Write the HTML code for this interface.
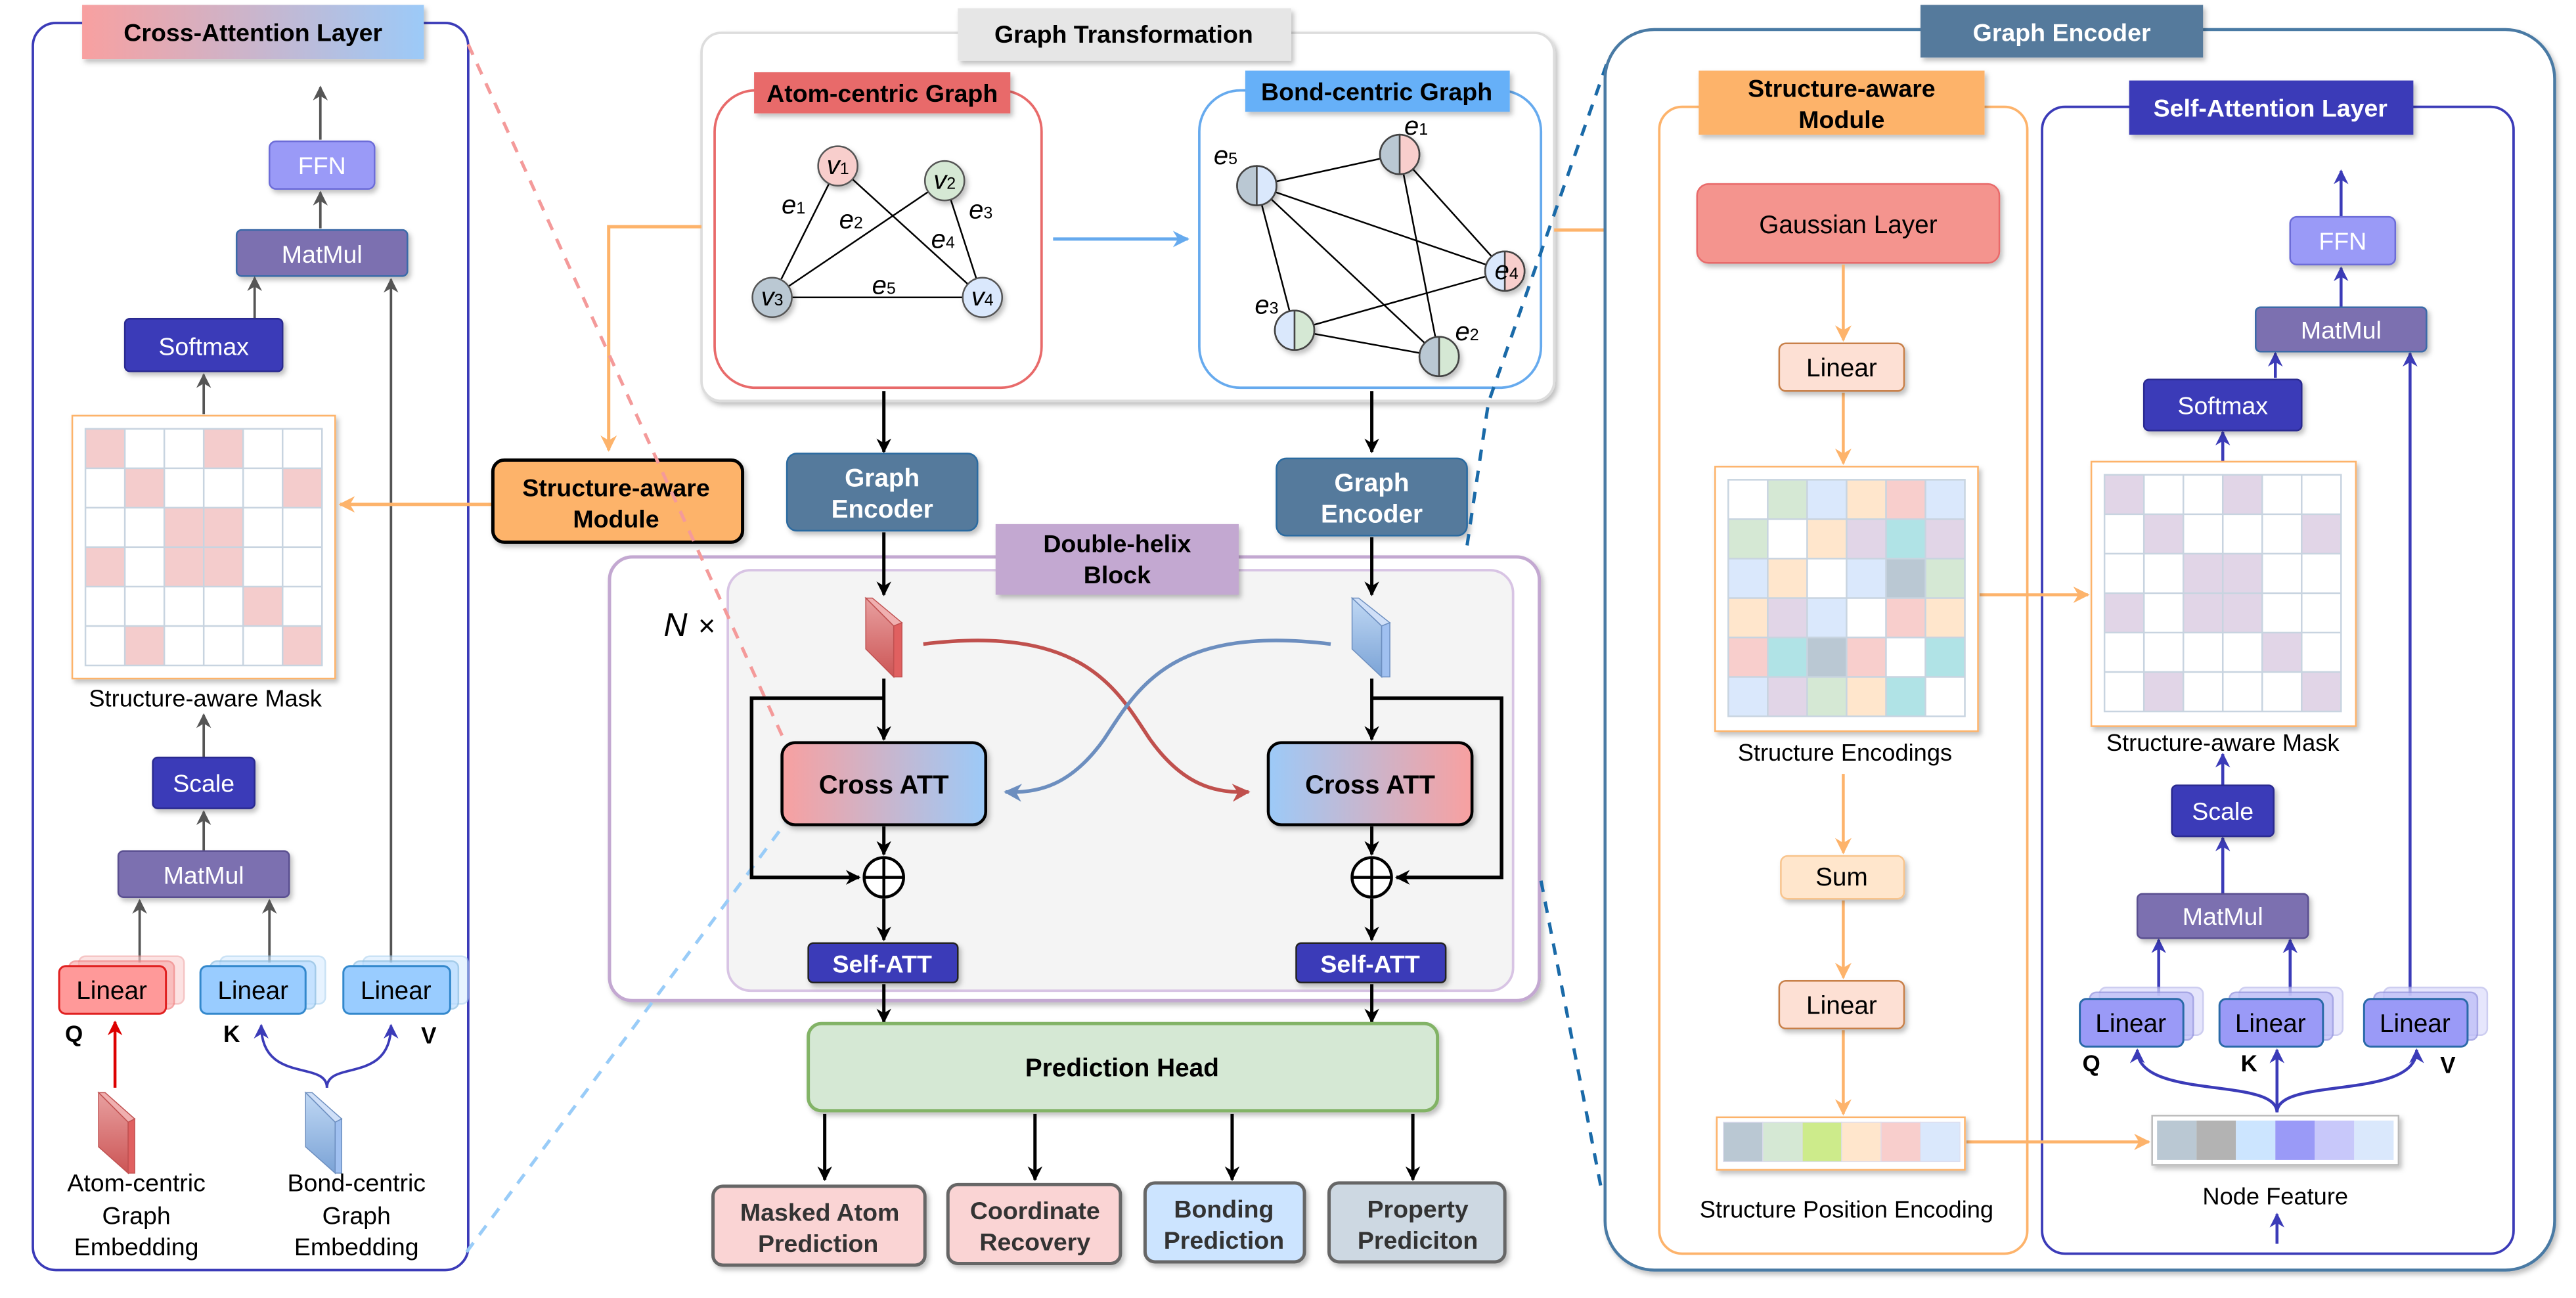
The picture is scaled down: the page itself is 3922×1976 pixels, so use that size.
<!DOCTYPE html>
<html><head><meta charset="utf-8">
<style>
html,body{margin:0;padding:0;background:#fff;}
svg{display:block;}
text{font-family:"Liberation Sans",sans-serif;}
.b{font-weight:bold;}
</style></head><body>
<svg width="3922" height="1976" viewBox="0 0 1568 790" xmlns="http://www.w3.org/2000/svg">
<defs>
<filter id="sh" x="-10%" y="-10%" width="130%" height="140%"><feDropShadow dx="1.5" dy="2" stdDeviation="1.5" flood-color="#000" flood-opacity="0.25"/></filter>
<marker id="ak" viewBox="0 0 10 10" refX="9" refY="5" markerWidth="9" markerHeight="9" markerUnits="userSpaceOnUse" orient="auto"><path d="M0,0 L10,5 L0,10 L3,5z" fill="#000"/></marker>
<marker id="ag" viewBox="0 0 10 10" refX="9" refY="5" markerWidth="9" markerHeight="9" markerUnits="userSpaceOnUse" orient="auto"><path d="M0,0 L10,5 L0,10 L3,5z" fill="#555"/></marker>
<marker id="ao" viewBox="0 0 10 10" refX="9" refY="5" markerWidth="10" markerHeight="10" markerUnits="userSpaceOnUse" orient="auto"><path d="M0,0 L10,5 L0,10 L3,5z" fill="#fdb36b"/></marker>
<marker id="ap" viewBox="0 0 10 10" refX="9" refY="5" markerWidth="9" markerHeight="9" markerUnits="userSpaceOnUse" orient="auto"><path d="M0,0 L10,5 L0,10 L3,5z" fill="#3b3bb8"/></marker>
<marker id="ab" viewBox="0 0 10 10" refX="9" refY="5" markerWidth="10" markerHeight="10" markerUnits="userSpaceOnUse" orient="auto"><path d="M0,0 L10,5 L0,10 L3,5z" fill="#66aaee"/></marker>
<marker id="ar" viewBox="0 0 10 10" refX="9" refY="5" markerWidth="9" markerHeight="9" markerUnits="userSpaceOnUse" orient="auto"><path d="M0,0 L10,5 L0,10 L3,5z" fill="#d00"/></marker>
<marker id="acr" viewBox="0 0 10 10" refX="9" refY="5" markerWidth="11" markerHeight="11" markerUnits="userSpaceOnUse" orient="auto"><path d="M0,0 L10,5 L0,10 L3,5z" fill="#c0504d"/></marker>
<marker id="acb" viewBox="0 0 10 10" refX="9" refY="5" markerWidth="11" markerHeight="11" markerUnits="userSpaceOnUse" orient="auto"><path d="M0,0 L10,5 L0,10 L3,5z" fill="#6c8ebf"/></marker>
<linearGradient id="gpb" x1="0" x2="1" y1="0" y2="0"><stop offset="0" stop-color="#f8a0a0"/><stop offset="1" stop-color="#9ccaf8"/></linearGradient>
<linearGradient id="gbp" x1="0" x2="1" y1="0" y2="0"><stop offset="0" stop-color="#9ccaf8"/><stop offset="1" stop-color="#f8a0a0"/></linearGradient>
<linearGradient id="gcr" x1="0" x2="0" y1="0" y2="1"><stop offset="0" stop-color="#e8a0a0"/><stop offset="1" stop-color="#cc5555"/></linearGradient>
<linearGradient id="gcb" x1="0" x2="0" y1="0" y2="1"><stop offset="0" stop-color="#c0d8f4"/><stop offset="1" stop-color="#7ba3d6"/></linearGradient>
</defs>

<!-- ============ LEFT PANEL ============ -->
<rect x="20" y="14" width="265" height="759" rx="14" fill="#fff" stroke="#3b3bb8" stroke-width="1.5"/>
<rect x="50" y="3" width="208" height="33" fill="url(#gpb)" filter="url(#sh)"/>
<text x="154" y="25" class="b" font-size="15" text-anchor="middle">Cross-Attention Layer</text>
<line x1="195" y1="85" x2="195" y2="53" stroke="#555" stroke-width="1.5" marker-end="url(#ag)"/>
<rect x="164" y="86" width="64" height="29" rx="4" fill="#9a9af7" stroke="#6c6cd8" filter="url(#sh)"/>
<text x="196" y="106" font-size="15" fill="#fff" text-anchor="middle">FFN</text>
<line x1="195" y1="139" x2="195" y2="117" stroke="#555" stroke-width="1.5" marker-end="url(#ag)"/>
<rect x="144" y="140" width="104" height="28" rx="3" fill="#7b6fb0" stroke="#3a6aa8" filter="url(#sh)"/>
<text x="196" y="160" font-size="15" fill="#fff" text-anchor="middle">MatMul</text>
<line x1="155" y1="194" x2="155" y2="169" stroke="#555" stroke-width="1.5" marker-end="url(#ag)"/>
<rect x="76" y="194" width="96" height="32" rx="3" fill="#3b3bb8" stroke="#2a2a90" filter="url(#sh)"/>
<text x="124" y="216" font-size="15" fill="#fff" text-anchor="middle">Softmax</text>
<line x1="124" y1="252" x2="124" y2="228" stroke="#555" stroke-width="1.5" marker-end="url(#ag)"/>
<rect x="44" y="253" width="160" height="160" fill="#fff" stroke="#fdb36b" filter="url(#sh)"/>
<g>
<rect x="52" y="261" width="144" height="144" fill="#fff"/>
<g fill="#f4cccc">
<rect x="52" y="261" width="24" height="24"/><rect x="124" y="261" width="24" height="24"/>
<rect x="76" y="285" width="24" height="24"/><rect x="172" y="285" width="24" height="24"/>
<rect x="100" y="309" width="24" height="24"/><rect x="124" y="309" width="24" height="24"/>
<rect x="52" y="333" width="24" height="24"/><rect x="100" y="333" width="24" height="24"/><rect x="124" y="333" width="24" height="24"/>
<rect x="148" y="357" width="24" height="24"/>
<rect x="76" y="381" width="24" height="24"/><rect x="172" y="381" width="24" height="24"/>
</g>
<g stroke="#c8d4e0" stroke-width="1" fill="none">
<rect x="52" y="261" width="144" height="144"/>
<path d="M76,261V405M100,261V405M124,261V405M148,261V405M172,261V405M52,285H196M52,309H196M52,333H196M52,357H196M52,381H196"/>
</g></g>
<text x="125" y="430" font-size="14.5" text-anchor="middle">Structure-aware Mask</text>
<line x1="124" y1="461" x2="124" y2="435" stroke="#555" stroke-width="1.5" marker-end="url(#ag)"/>
<rect x="93" y="461" width="62" height="31" rx="3" fill="#3b3bb8" stroke="#2a2a90" filter="url(#sh)"/>
<text x="124" y="482" font-size="15" fill="#fff" text-anchor="middle">Scale</text>
<line x1="124" y1="518" x2="124" y2="494" stroke="#555" stroke-width="1.5" marker-end="url(#ag)"/>
<rect x="72" y="518" width="104" height="28" rx="3" fill="#7b6fb0" stroke="#5a5090" filter="url(#sh)"/>
<text x="124" y="538" font-size="15" fill="#fff" text-anchor="middle">MatMul</text>
<line x1="85" y1="586" x2="85" y2="548" stroke="#555" stroke-width="1.5" marker-end="url(#ag)"/>
<line x1="164" y1="586" x2="164" y2="548" stroke="#555" stroke-width="1.5" marker-end="url(#ag)"/>
<line x1="238" y1="586" x2="238" y2="170" stroke="#555" stroke-width="1.5" marker-end="url(#ag)"/>
<rect x="48" y="582" width="64" height="29" rx="4" fill="#fbd0d0" stroke="#f0a0a0" opacity="0.6"/>
<rect x="42" y="585" width="64" height="29" rx="4" fill="#f8b0b0" stroke="#f08080" opacity="0.7"/>
<rect x="36" y="588" width="65" height="29" rx="4" fill="#f99" stroke="#e02020" stroke-width="1.2"/>
<text x="68" y="608" font-size="15.5" text-anchor="middle">Linear</text>
<rect x="134" y="582" width="64" height="29" rx="4" fill="#d8ecff" stroke="#a8d0f0" opacity="0.6"/>
<rect x="128" y="585" width="64" height="29" rx="4" fill="#b8dcff" stroke="#88bbe0" opacity="0.7"/>
<rect x="122" y="588" width="64" height="29" rx="4" fill="#99ccff" stroke="#3388cc" stroke-width="1.2"/>
<text x="154" y="608" font-size="15.5" text-anchor="middle">Linear</text>
<rect x="221" y="582" width="64" height="29" rx="4" fill="#d8ecff" stroke="#a8d0f0" opacity="0.6"/>
<rect x="215" y="585" width="64" height="29" rx="4" fill="#b8dcff" stroke="#88bbe0" opacity="0.7"/>
<rect x="209" y="588" width="65" height="29" rx="4" fill="#99ccff" stroke="#3388cc" stroke-width="1.2"/>
<text x="241" y="608" font-size="15.5" text-anchor="middle">Linear</text>
<text x="45" y="634" class="b" font-size="14" text-anchor="middle">Q</text>
<text x="141" y="634" class="b" font-size="14" text-anchor="middle">K</text>
<text x="261" y="635" class="b" font-size="14" text-anchor="middle">V</text>
<line x1="70" y1="662" x2="70" y2="622" stroke="#d00" stroke-width="1.8" marker-end="url(#ar)"/>
<path d="M199,662 C199,645 159,660 159,624" fill="none" stroke="#3b3bb8" stroke-width="1.5" marker-end="url(#ap)"/>
<path d="M199,662 C199,645 238,660 238,624" fill="none" stroke="#3b3bb8" stroke-width="1.5" marker-end="url(#ap)"/>
<g>
<polygon points="60,665 64,665 82,681 78,683" fill="#f0b0b0" stroke="#c05050" stroke-width="0.6"/>
<polygon points="60,665 78,683 78,714 60,698" fill="url(#gcr)" stroke="#c05050" stroke-width="0.6"/>
<polygon points="78,683 82,681 82,714 78,714" fill="#e06060" stroke="#c05050" stroke-width="0.6"/>
</g>
<g>
<polygon points="186,665 190,665 208,681 204,683" fill="#d0e0f8" stroke="#6c8ebf" stroke-width="0.6"/>
<polygon points="186,665 204,683 204,714 186,698" fill="url(#gcb)" stroke="#6c8ebf" stroke-width="0.6"/>
<polygon points="204,683 208,681 208,714 204,714" fill="#a0c0f0" stroke="#6c8ebf" stroke-width="0.6"/>
</g>
<g font-size="15" text-anchor="middle">
<text x="83" y="725">Atom-centric</text><text x="83" y="745">Graph</text><text x="83" y="764">Embedding</text>
<text x="217" y="725">Bond-centric</text><text x="217" y="745">Graph</text><text x="217" y="764">Embedding</text>
</g>

<!-- ============ MIDDLE ============ -->
<rect x="427" y="20" width="519" height="224" rx="12" fill="#fff" stroke="#ddd" stroke-width="1.5" filter="url(#sh)"/>
<rect x="583" y="5" width="203" height="32" fill="#e6e6e6" filter="url(#sh)"/>
<text x="684" y="26" class="b" font-size="15" text-anchor="middle">Graph Transformation</text>
<rect x="435" y="55" width="199" height="181" rx="25" fill="#fff" stroke="#e86a6a" stroke-width="1.5"/>
<rect x="459" y="44" width="156" height="25" fill="#e86a6a" filter="url(#sh)"/>
<text x="537" y="62" class="b" font-size="15" text-anchor="middle">Atom-centric Graph</text>
<g stroke="#000" stroke-width="1">
<line x1="510" y1="101" x2="470" y2="181"/><line x1="510" y1="101" x2="598" y2="181"/>
<line x1="575" y1="110" x2="470" y2="181"/><line x1="575" y1="110" x2="598" y2="181"/>
<line x1="470" y1="181" x2="598" y2="181"/>
</g>
<g stroke="#555" stroke-width="1" filter="url(#sh)">
<circle cx="510" cy="101" r="12" fill="#f8cecc"/>
<circle cx="575" cy="110" r="12" fill="#d5e8d4"/>
<circle cx="470" cy="181" r="12" fill="#bac8d3"/>
<circle cx="598" cy="181" r="12" fill="#dae8fc"/>
</g>
<g font-family="Liberation Serif,serif" font-style="italic" font-size="16" text-anchor="middle">
<text x="510" y="106">v<tspan font-size="10" font-style="normal">1</tspan></text>
<text x="575" y="115">v<tspan font-size="10" font-style="normal">2</tspan></text>
<text x="470" y="186">v<tspan font-size="10" font-style="normal">3</tspan></text>
<text x="598" y="186">v<tspan font-size="10" font-style="normal">4</tspan></text>
<text x="483" y="130">e<tspan font-size="10" font-style="normal">1</tspan></text>
<text x="518" y="139">e<tspan font-size="10" font-style="normal">2</tspan></text>
<text x="597" y="133">e<tspan font-size="10" font-style="normal">3</tspan></text>
<text x="574" y="151">e<tspan font-size="10" font-style="normal">4</tspan></text>
<text x="538" y="179">e<tspan font-size="10" font-style="normal">5</tspan></text>
</g>
<line x1="641" y1="145.5" x2="723" y2="145.5" stroke="#66aaee" stroke-width="2" marker-end="url(#ab)"/>
<rect x="730" y="55" width="208" height="181" rx="25" fill="#fff" stroke="#66aaee" stroke-width="1.5"/>
<rect x="758" y="43" width="161" height="25" fill="#66b0f8" filter="url(#sh)"/>
<text x="838" y="61" class="b" font-size="15" text-anchor="middle">Bond-centric Graph</text>
<g stroke="#000" stroke-width="1">
<line x1="765" y1="113" x2="852" y2="94"/><line x1="765" y1="113" x2="916" y2="165"/>
<line x1="765" y1="113" x2="788" y2="201"/><line x1="765" y1="113" x2="876" y2="217"/>
<line x1="852" y1="94" x2="916" y2="165"/><line x1="852" y1="94" x2="876" y2="217"/>
<line x1="788" y1="201" x2="916" y2="165"/><line x1="788" y1="201" x2="876" y2="217"/>
</g>
<g stroke="#444" stroke-width="1">
<g filter="url(#sh)"><path d="M852,82 A12,12 0 0 0 852,106Z" fill="#bac8d3"/><path d="M852,82 A12,12 0 0 1 852,106Z" fill="#f8cecc"/></g>
<circle cx="852" cy="94" r="12" fill="none"/>
<g filter="url(#sh)"><path d="M765,101 A12,12 0 0 0 765,125Z" fill="#bac8d3"/><path d="M765,101 A12,12 0 0 1 765,125Z" fill="#dae8fc"/></g>
<circle cx="765" cy="113" r="12" fill="none"/>
<g filter="url(#sh)"><path d="M916,153 A12,12 0 0 0 916,177Z" fill="#dae8fc"/><path d="M916,153 A12,12 0 0 1 916,177Z" fill="#f8cecc"/></g>
<circle cx="916" cy="165" r="12" fill="none"/>
<g filter="url(#sh)"><path d="M788,189 A12,12 0 0 0 788,213Z" fill="#dae8fc"/><path d="M788,189 A12,12 0 0 1 788,213Z" fill="#d5e8d4"/></g>
<circle cx="788" cy="201" r="12" fill="none"/>
<g filter="url(#sh)"><path d="M876,205 A12,12 0 0 0 876,229Z" fill="#bac8d3"/><path d="M876,205 A12,12 0 0 1 876,229Z" fill="#d5e8d4"/></g>
<circle cx="876" cy="217" r="12" fill="none"/>
</g>
<g font-family="Liberation Serif,serif" font-style="italic" font-size="16" text-anchor="middle">
<text x="862" y="82">e<tspan font-size="10" font-style="normal">1</tspan></text>
<text x="746" y="100">e<tspan font-size="10" font-style="normal">5</tspan></text>
<text x="917" y="170">e<tspan font-size="10" font-style="normal">4</tspan></text>
<text x="771" y="191">e<tspan font-size="10" font-style="normal">3</tspan></text>
<text x="893" y="207">e<tspan font-size="10" font-style="normal">2</tspan></text>
</g>
<line x1="538" y1="238" x2="538" y2="275" stroke="#000" stroke-width="2" marker-end="url(#ak)"/>
<line x1="835" y1="238" x2="835" y2="275" stroke="#000" stroke-width="2" marker-end="url(#ak)"/>
<rect x="479" y="276" width="116" height="47" rx="6" fill="#557a9c" stroke="#2a6aa0" filter="url(#sh)"/>
<text x="537" y="296" class="b" font-size="15.5" fill="#fff" text-anchor="middle">Graph</text>
<text x="537" y="315" class="b" font-size="15.5" fill="#fff" text-anchor="middle">Encoder</text>
<rect x="777" y="279" width="116" height="47" rx="6" fill="#557a9c" stroke="#2a6aa0" filter="url(#sh)"/>
<text x="835" y="299" class="b" font-size="15.5" fill="#fff" text-anchor="middle">Graph</text>
<text x="835" y="318" class="b" font-size="15.5" fill="#fff" text-anchor="middle">Encoder</text>
<polyline points="427,138 370.5,138 370.5,274" fill="none" stroke="#fdb36b" stroke-width="2" marker-end="url(#ao)"/>
<line x1="300" y1="307" x2="207" y2="307" stroke="#fdb36b" stroke-width="2" marker-end="url(#ao)"/>
<line x1="946" y1="140" x2="1031" y2="140" stroke="#fdb36b" stroke-width="2" marker-end="url(#ao)"/>
<rect x="300" y="280" width="152" height="50" rx="7" fill="#fdb36b" stroke="#000" stroke-width="2" filter="url(#sh)"/>
<text x="375" y="302" class="b" font-size="15" text-anchor="middle">Structure-aware</text>
<text x="375" y="321" class="b" font-size="15" text-anchor="middle">Module</text>
<rect x="371" y="339" width="566" height="270" rx="14" fill="#fff" stroke="#c3a8d1" stroke-width="2" filter="url(#sh)"/>
<rect x="443" y="347" width="478" height="256" rx="14" fill="#f4f4f4" stroke="#d8c4e4" stroke-width="1.5"/>
<rect x="606" y="319" width="148" height="43" fill="#c3a8d1" filter="url(#sh)"/>
<text x="680" y="336" class="b" font-size="15" text-anchor="middle">Double-helix</text>
<text x="680" y="355" class="b" font-size="15" text-anchor="middle">Block</text>
<text x="404" y="387" font-family="Liberation Serif,serif" font-style="italic" font-size="20">N</text>
<text x="425" y="387" font-family="Liberation Serif,serif" font-size="18">×</text>
<line x1="285" y1="27" x2="478" y2="452" stroke="#f49a9a" stroke-width="2" stroke-dasharray="7,6"/>
<line x1="284" y1="762" x2="478" y2="501" stroke="#99ccf8" stroke-width="2" stroke-dasharray="7,6"/>
<polyline points="893,332 906,245 979,36" fill="none" stroke="#1a6aa8" stroke-width="2" stroke-dasharray="7,6"/>
<line x1="938" y1="536" x2="975" y2="725" stroke="#1a6aa8" stroke-width="2" stroke-dasharray="7,6"/>
<line x1="538" y1="324" x2="538" y2="362" stroke="#000" stroke-width="2" marker-end="url(#ak)"/>
<line x1="835" y1="327" x2="835" y2="362" stroke="#000" stroke-width="2" marker-end="url(#ak)"/>
<g>
<polygon points="527,364 531,364 549,379 544,381" fill="#f0b0b0" stroke="#c05050" stroke-width="0.6"/>
<polygon points="527,364 544,381 544,412 527,395" fill="url(#gcr)" stroke="#c05050" stroke-width="0.6"/>
<polygon points="544,381 549,379 549,412 544,412" fill="#e06060" stroke="#c05050" stroke-width="0.6"/>
</g>
<g>
<polygon points="823,364 827,364 846,379 841,381" fill="#d0e0f8" stroke="#6c8ebf" stroke-width="0.6"/>
<polygon points="823,364 841,381 841,412 823,395" fill="url(#gcb)" stroke="#6c8ebf" stroke-width="0.6"/>
<polygon points="841,381 846,379 846,412 841,412" fill="#a0c0f0" stroke="#6c8ebf" stroke-width="0.6"/>
</g>
<line x1="538" y1="413" x2="538" y2="450" stroke="#000" stroke-width="2" marker-end="url(#ak)"/>
<polyline points="538,425 457.5,425 457.5,534 523,534" fill="none" stroke="#000" stroke-width="2.2" marker-end="url(#ak)"/>
<line x1="835" y1="413" x2="835" y2="450" stroke="#000" stroke-width="2" marker-end="url(#ak)"/>
<polyline points="835,425 914,425 914,534 850,534" fill="none" stroke="#000" stroke-width="2.2" marker-end="url(#ak)"/>
<rect x="476" y="452" width="124" height="50" rx="8" fill="url(#gpb)" stroke="#000" stroke-width="1.8" filter="url(#sh)"/>
<text x="538" y="483" class="b" font-size="16" text-anchor="middle">Cross ATT</text>
<rect x="772" y="452" width="124" height="50" rx="8" fill="url(#gbp)" stroke="#000" stroke-width="1.8" filter="url(#sh)"/>
<text x="834" y="483" class="b" font-size="16" text-anchor="middle">Cross ATT</text>
<path d="M562,392 C660,380 680,420 700,450 C720,478 740,483 760,482" fill="none" stroke="#c0504d" stroke-width="2.2" marker-end="url(#acr)"/>
<path d="M810,392 C712,380 692,420 672,450 C652,478 632,483 612,482" fill="none" stroke="#6c8ebf" stroke-width="2.2" marker-end="url(#acb)"/>
<line x1="538" y1="503" x2="538" y2="520" stroke="#000" stroke-width="2" marker-end="url(#ak)"/>
<line x1="835" y1="503" x2="835" y2="520" stroke="#000" stroke-width="2" marker-end="url(#ak)"/>
<g stroke="#000" stroke-width="1.8" fill="#fff">
<circle cx="538" cy="534" r="12"/><path d="M526,534H550M538,522V546"/>
<circle cx="835" cy="534" r="12"/><path d="M823,534H847M835,522V546"/>
</g>
<line x1="538" y1="547" x2="538" y2="572" stroke="#000" stroke-width="2" marker-end="url(#ak)"/>
<line x1="835" y1="547" x2="835" y2="572" stroke="#000" stroke-width="2" marker-end="url(#ak)"/>
<rect x="492" y="574" width="91" height="24" rx="3" fill="#3b3bb8" stroke="#222" filter="url(#sh)"/>
<text x="537" y="592" class="b" font-size="15" fill="#fff" text-anchor="middle">Self-ATT</text>
<rect x="789" y="574" width="91" height="24" rx="3" fill="#3b3bb8" stroke="#222" filter="url(#sh)"/>
<text x="834" y="592" class="b" font-size="15" fill="#fff" text-anchor="middle">Self-ATT</text>
<line x1="538" y1="599" x2="538" y2="622" stroke="#000" stroke-width="2" marker-end="url(#ak)"/>
<line x1="835" y1="599" x2="835" y2="622" stroke="#000" stroke-width="2" marker-end="url(#ak)"/>
<rect x="492" y="623" width="383" height="53" rx="8" fill="#d5e8d4" stroke="#82b366" stroke-width="2" filter="url(#sh)"/>
<text x="683" y="655" class="b" font-size="15.5" text-anchor="middle">Prediction Head</text>
<g stroke="#000" stroke-width="2">
<line x1="502" y1="678" x2="502" y2="718" marker-end="url(#ak)"/>
<line x1="630" y1="678" x2="630" y2="718" marker-end="url(#ak)"/>
<line x1="750" y1="678" x2="750" y2="718" marker-end="url(#ak)"/>
<line x1="860" y1="678" x2="860" y2="718" marker-end="url(#ak)"/>
</g>
<g stroke="#666" stroke-width="2" filter="url(#sh)">
<rect x="434" y="722" width="129" height="48" rx="6" fill="#fad4d4"/>
<rect x="577" y="721" width="105" height="48" rx="6" fill="#fad4d4"/>
<rect x="697" y="720" width="97" height="48" rx="6" fill="#cce4ff"/>
<rect x="809" y="720" width="107" height="48" rx="6" fill="#cdd8e2"/>
</g>
<g class="b" font-size="15" text-anchor="middle" fill="#333">
<text x="499" y="743">Masked Atom</text><text x="498" y="762">Prediction</text>
<text x="630" y="742">Coordinate</text><text x="630" y="761">Recovery</text>
<text x="745" y="741">Bonding</text><text x="745" y="760">Prediction</text>
<text x="863" y="741">Property</text><text x="863" y="760">Prediciton</text>
</g>

<!-- ============ RIGHT PANEL ============ -->
<rect x="977" y="18" width="578" height="755" rx="30" fill="#fff" stroke="#4a7aa4" stroke-width="1.8" filter="url(#sh)"/>
<rect x="1169" y="3" width="172" height="32" fill="#557a9c" filter="url(#sh)"/>
<text x="1255" y="25" class="b" font-size="15" fill="#fff" text-anchor="middle">Graph Encoder</text>
<rect x="1010" y="65" width="224" height="698" rx="14" fill="#fff" stroke="#fdb36b" stroke-width="1.5"/>
<rect x="1034" y="43" width="174" height="39" fill="#fdb36b" filter="url(#sh)"/>
<text x="1121" y="59" class="b" font-size="15" text-anchor="middle">Structure-aware</text>
<text x="1121" y="78" class="b" font-size="15" text-anchor="middle">Module</text>
<rect x="1243" y="65" width="287" height="698" rx="14" fill="#fff" stroke="#3b3bb8" stroke-width="1.5"/>
<rect x="1296" y="49" width="173" height="33" fill="#3b3bb8" filter="url(#sh)"/>
<text x="1382" y="71" class="b" font-size="15" fill="#fff" text-anchor="middle">Self-Attention Layer</text>

<rect x="1033" y="112" width="184" height="48" rx="7" fill="#f4948e" stroke="#e86a6a" filter="url(#sh)"/>
<text x="1125" y="142" font-size="15.5" text-anchor="middle">Gaussian Layer</text>
<g stroke="#fdb36b" stroke-width="1.8">
<line x1="1122" y1="161" x2="1122" y2="207" marker-end="url(#ao)"/>
<line x1="1122" y1="239" x2="1122" y2="282" marker-end="url(#ao)"/>
<line x1="1122" y1="471" x2="1122" y2="519" marker-end="url(#ao)"/>
<line x1="1122" y1="548" x2="1122" y2="595" marker-end="url(#ao)"/>
<line x1="1122" y1="627" x2="1122" y2="678" marker-end="url(#ao)"/>
<line x1="1205" y1="362" x2="1271" y2="362" marker-end="url(#ao)"/>
<line x1="1197" y1="695" x2="1308" y2="695" marker-end="url(#ao)"/>
</g>
<rect x="1083" y="209" width="76" height="29" rx="4" fill="#fde0d4" stroke="#c8804a" filter="url(#sh)"/>
<text x="1121" y="229" font-size="15.5" text-anchor="middle">Linear</text>
<rect x="1044" y="284" width="160" height="161" fill="#fff" stroke="#fdb36b" filter="url(#sh)"/>
<g>
<rect x="1052" y="292" width="144" height="144" fill="#fff"/>
<g>
<rect x="1076" y="292" width="24" height="24" fill="#d5e8d4"/><rect x="1100" y="292" width="24" height="24" fill="#dae8fc"/><rect x="1124" y="292" width="24" height="24" fill="#ffe6cc"/><rect x="1148" y="292" width="24" height="24" fill="#f8cecc"/><rect x="1172" y="292" width="24" height="24" fill="#dae8fc"/>
<rect x="1052" y="316" width="24" height="24" fill="#d5e8d4"/><rect x="1100" y="316" width="24" height="24" fill="#ffe6cc"/><rect x="1124" y="316" width="24" height="24" fill="#e1d5e7"/><rect x="1148" y="316" width="24" height="24" fill="#b0e3e6"/><rect x="1172" y="316" width="24" height="24" fill="#e1d5e7"/>
<rect x="1052" y="340" width="24" height="24" fill="#dae8fc"/><rect x="1076" y="340" width="24" height="24" fill="#ffe6cc"/><rect x="1124" y="340" width="24" height="24" fill="#dae8fc"/><rect x="1148" y="340" width="24" height="24" fill="#bac8d3"/><rect x="1172" y="340" width="24" height="24" fill="#d5e8d4"/>
<rect x="1052" y="364" width="24" height="24" fill="#ffe6cc"/><rect x="1076" y="364" width="24" height="24" fill="#e1d5e7"/><rect x="1100" y="364" width="24" height="24" fill="#dae8fc"/><rect x="1148" y="364" width="24" height="24" fill="#f8cecc"/><rect x="1172" y="364" width="24" height="24" fill="#ffe6cc"/>
<rect x="1052" y="388" width="24" height="24" fill="#f8cecc"/><rect x="1076" y="388" width="24" height="24" fill="#b0e3e6"/><rect x="1100" y="388" width="24" height="24" fill="#bac8d3"/><rect x="1124" y="388" width="24" height="24" fill="#f8cecc"/><rect x="1172" y="388" width="24" height="24" fill="#b0e3e6"/>
<rect x="1052" y="412" width="24" height="24" fill="#dae8fc"/><rect x="1076" y="412" width="24" height="24" fill="#e1d5e7"/><rect x="1100" y="412" width="24" height="24" fill="#d5e8d4"/><rect x="1124" y="412" width="24" height="24" fill="#ffe6cc"/><rect x="1148" y="412" width="24" height="24" fill="#b0e3e6"/>
</g>
<g stroke="#c8d4e0" stroke-width="1" fill="none">
<rect x="1052" y="292" width="144" height="144"/>
<path d="M1076,292V436M1100,292V436M1124,292V436M1148,292V436M1172,292V436M1052,316H1196M1052,340H1196M1052,364H1196M1052,388H1196M1052,412H1196"/>
</g></g>
<text x="1123" y="463" font-size="14.5" text-anchor="middle">Structure Encodings</text>
<rect x="1084" y="521" width="75" height="26" rx="4" fill="#ffe6cc" stroke="#f8c48c" filter="url(#sh)"/>
<text x="1121" y="539" font-size="15.5" text-anchor="middle">Sum</text>
<rect x="1083" y="597" width="76" height="29" rx="4" fill="#fde0d4" stroke="#c8804a" filter="url(#sh)"/>
<text x="1121" y="617" font-size="15.5" text-anchor="middle">Linear</text>
<rect x="1045" y="680" width="151" height="32" fill="#fff" stroke="#fdb36b" filter="url(#sh)"/>
<g stroke="#dde" stroke-width="0.5">
<rect x="1049" y="683" width="24" height="24" fill="#bac8d3"/><rect x="1073" y="683" width="24" height="24" fill="#d5e8d4"/><rect x="1097" y="683" width="24" height="24" fill="#cdeb8b"/><rect x="1121" y="683" width="24" height="24" fill="#ffe6cc"/><rect x="1145" y="683" width="24" height="24" fill="#f8cecc"/><rect x="1169" y="683" width="24" height="24" fill="#dae8fc"/>
</g>
<text x="1124" y="741" font-size="14.5" text-anchor="middle">Structure Position Encoding</text>

<g stroke="#3b3bb8" stroke-width="1.8">
<line x1="1425" y1="132" x2="1425" y2="104" marker-end="url(#ap)"/>
<line x1="1425" y1="187" x2="1425" y2="163" marker-end="url(#ap)"/>
<line x1="1385" y1="230" x2="1385" y2="215" marker-end="url(#ap)"/>
<line x1="1353" y1="281" x2="1353" y2="263" marker-end="url(#ap)"/>
<line x1="1353" y1="478" x2="1353" y2="459" marker-end="url(#ap)"/>
<line x1="1353" y1="544" x2="1353" y2="510" marker-end="url(#ap)"/>
<line x1="1314" y1="606" x2="1314" y2="572" marker-end="url(#ap)"/>
<line x1="1394" y1="606" x2="1394" y2="572" marker-end="url(#ap)"/>
<line x1="1467" y1="606" x2="1467" y2="215" marker-end="url(#ap)"/>
<line x1="1386" y1="757" x2="1386" y2="739" marker-end="url(#ap)"/>
</g>
<rect x="1394" y="132" width="64" height="29" rx="4" fill="#9a9af7" stroke="#6c6cd8" filter="url(#sh)"/>
<text x="1426" y="152" font-size="15" fill="#fff" text-anchor="middle">FFN</text>
<rect x="1373" y="187" width="104" height="27" rx="3" fill="#7b6fb0" stroke="#3a6aa8" filter="url(#sh)"/>
<text x="1425" y="206" font-size="15" fill="#fff" text-anchor="middle">MatMul</text>
<rect x="1305" y="231" width="96" height="31" rx="3" fill="#3b3bb8" stroke="#2a2a90" filter="url(#sh)"/>
<text x="1353" y="252" font-size="15" fill="#fff" text-anchor="middle">Softmax</text>
<rect x="1273" y="281" width="161" height="161" fill="#fff" stroke="#fdb36b" filter="url(#sh)"/>
<g>
<rect x="1281" y="289" width="144" height="144" fill="#fff"/>
<g fill="#e1d5e7">
<rect x="1281" y="289" width="24" height="24"/><rect x="1353" y="289" width="24" height="24"/>
<rect x="1305" y="313" width="24" height="24"/><rect x="1401" y="313" width="24" height="24"/>
<rect x="1329" y="337" width="24" height="24"/><rect x="1353" y="337" width="24" height="24"/>
<rect x="1281" y="361" width="24" height="24"/><rect x="1329" y="361" width="24" height="24"/><rect x="1353" y="361" width="24" height="24"/>
<rect x="1377" y="385" width="24" height="24"/>
<rect x="1305" y="409" width="24" height="24"/><rect x="1401" y="409" width="24" height="24"/>
</g>
<g stroke="#c8d4e0" stroke-width="1" fill="none">
<rect x="1281" y="289" width="144" height="144"/>
<path d="M1305,289V433M1329,289V433M1353,289V433M1377,289V433M1401,289V433M1281,313H1425M1281,337H1425M1281,361H1425M1281,385H1425M1281,409H1425"/>
</g></g>
<text x="1353" y="457" font-size="14.5" text-anchor="middle">Structure-aware Mask</text>
<rect x="1322" y="478" width="62" height="31" rx="3" fill="#3b3bb8" stroke="#2a2a90" filter="url(#sh)"/>
<text x="1353" y="499" font-size="15" fill="#fff" text-anchor="middle">Scale</text>
<rect x="1301" y="544" width="104" height="27" rx="3" fill="#7b6fb0" stroke="#5a5090" filter="url(#sh)"/>
<text x="1353" y="563" font-size="15" fill="#fff" text-anchor="middle">MatMul</text>
<g>
<rect x="1278" y="601" width="63" height="29" rx="4" fill="#dcdcfb" stroke="#b8b8ea" opacity="0.7"/>
<rect x="1272" y="604" width="63" height="29" rx="4" fill="#c0c0f8" stroke="#9898e0" opacity="0.8"/>
<rect x="1266" y="608" width="63" height="29" rx="4" fill="#9a9af7" stroke="#2a6aa8" stroke-width="1.2"/>
<text x="1297" y="628" font-size="15.5" text-anchor="middle">Linear</text>
<rect x="1363" y="601" width="63" height="29" rx="4" fill="#dcdcfb" stroke="#b8b8ea" opacity="0.7"/>
<rect x="1357" y="604" width="63" height="29" rx="4" fill="#c0c0f8" stroke="#9898e0" opacity="0.8"/>
<rect x="1351" y="608" width="63" height="29" rx="4" fill="#9a9af7" stroke="#2a6aa8" stroke-width="1.2"/>
<text x="1382" y="628" font-size="15.5" text-anchor="middle">Linear</text>
<rect x="1451" y="601" width="63" height="29" rx="4" fill="#dcdcfb" stroke="#b8b8ea" opacity="0.7"/>
<rect x="1445" y="604" width="63" height="29" rx="4" fill="#c0c0f8" stroke="#9898e0" opacity="0.8"/>
<rect x="1439" y="608" width="63" height="29" rx="4" fill="#9a9af7" stroke="#2a6aa8" stroke-width="1.2"/>
<text x="1470" y="628" font-size="15.5" text-anchor="middle">Linear</text>
</g>
<text x="1273" y="652" class="b" font-size="14" text-anchor="middle">Q</text>
<text x="1369" y="652" class="b" font-size="14" text-anchor="middle">K</text>
<text x="1490" y="653" class="b" font-size="14" text-anchor="middle">V</text>
<g fill="none" stroke="#3b3bb8" stroke-width="1.8">
<path d="M1386,677 C1386,655 1301,670 1301,639" marker-end="url(#ap)"/>
<path d="M1386,677 L1386,639" marker-end="url(#ap)"/>
<path d="M1386,677 C1386,655 1471,670 1471,639" marker-end="url(#ap)"/>
</g>
<rect x="1310" y="679" width="150" height="30" fill="#fff" stroke="#bbb" filter="url(#sh)"/>
<g>
<rect x="1313" y="682" width="24" height="24" fill="#bac8d3"/><rect x="1337" y="682" width="24" height="24" fill="#b3b3b3"/><rect x="1361" y="682" width="24" height="24" fill="#cce5ff"/><rect x="1385" y="682" width="24" height="24" fill="#9a9af7"/><rect x="1409" y="682" width="24" height="24" fill="#c8c8fa"/><rect x="1433" y="682" width="24" height="24" fill="#dae8fc"/>
</g>
<text x="1385" y="733" font-size="14.5" text-anchor="middle">Node Feature</text>
</svg>
</body></html>
